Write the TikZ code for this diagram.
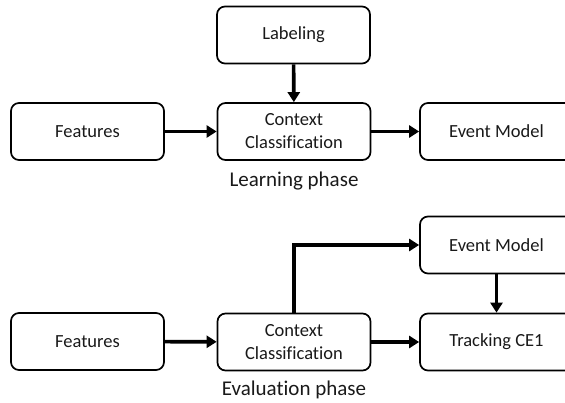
\documentclass[tikz,border=0pt]{standalone}
\usepackage{fontspec}
\setmainfont{Carlito}[Ligatures={NoCommon,NoRare}]
\usetikzlibrary{arrows.meta}
\begin{document}
\begin{tikzpicture}[x=1pt,y=-1pt,
  block/.style={draw=black, line width=1.7pt, rounded corners=8pt,
    minimum width=153pt, minimum height=57pt, inner sep=2pt,
    align=center, font=\fontsize{18.5}{23}\selectfont, text=black!90},
  flow/.style={line width=3.6pt,
    -{Triangle[length=10pt,width=12pt]}},
  phase/.style={font=\fontsize{21}{25}\selectfont, text=black!90}]
\useasboundingbox (0,0) rectangle (565,403);

% Learning phase
\node[block] (lab)  at (293.5,35)  {Labeling};
\node[block] (feat) at (87.5,131.5) {Features};
\node[block] (ctx)  at (294,131.5) {Context\\Classification};
\node[block] (ev)   at (496.5,131.5) {Event Model};
\node[phase] (lp)   at (294,181) {Learning phase};

\draw[flow] (lab) -- (ctx);
\draw[flow] (feat) -- (ctx);
\draw[flow] (ctx) -- (ev);

% Evaluation phase
\node[block] (ev2)   at (496.5,245) {Event Model};
\node[block] (feat2) at (87.5,341.5) {Features};
\node[block] (ctx2)  at (294,342) {Context\\Classification};
\node[block] (trk)   at (496.5,342) {Tracking CE1};
\node[phase] (ep)    at (294,390) {Evaluation phase};

\draw[flow] (feat2) -- (ctx2);
\draw[flow] (ctx2) -- (trk);
\draw[flow] (ctx2.north) |- (ev2.west);
\draw[flow] (ev2) -- (trk);
\end{tikzpicture}
\end{document}
